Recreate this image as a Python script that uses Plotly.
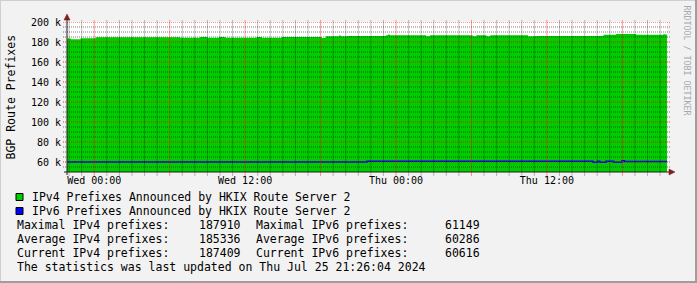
import plotly.graph_objects as go
import pandas as pd

# ---------------- data ----------------
ipv4_times = [
    "2024-07-23 21:50", "2024-07-23 22:10", "2024-07-23 22:55", "2024-07-24 00:08",
    "2024-07-24 06:50", "2024-07-24 08:25", "2024-07-24 09:00", "2024-07-24 09:55",
    "2024-07-24 10:25", "2024-07-24 12:55", "2024-07-24 13:20", "2024-07-24 14:55",
    "2024-07-24 18:05", "2024-07-24 18:25", "2024-07-24 19:30", "2024-07-24 19:36",
    "2024-07-24 20:06", "2024-07-24 23:12", "2024-07-24 23:22", "2024-07-24 23:30",
    "2024-07-25 02:24", "2024-07-25 02:42", "2024-07-25 06:06", "2024-07-25 06:24",
    "2024-07-25 07:12", "2024-07-25 07:30", "2024-07-25 10:30", "2024-07-25 11:03",
    "2024-07-25 16:30", "2024-07-25 17:30", "2024-07-25 19:06", "2024-07-25 21:15",
    "2024-07-25 21:25", "2024-07-25 21:33",
]
ipv4_values = [
    183600, 182700, 183700, 184700,
    184300, 185100, 184300, 185100,
    184300, 185000, 184300, 185000,
    183900, 185700, 186800, 185700,
    186000, 186700, 187400, 186700,
    185800, 186700, 185800, 186700,
    185800, 186700, 185800, 186100,
    187300, 187910, 187300, 187800,
    187409, 187409,
]

ipv6_times = [
    "2024-07-23 21:50", "2024-07-24 21:42", "2024-07-25 15:40", "2024-07-25 16:02",
    "2024-07-25 16:12", "2024-07-25 16:42", "2024-07-25 17:18", "2024-07-25 17:58",
    "2024-07-25 18:10", "2024-07-25 21:33",
]
ipv6_values = [
    59900, 60650, 59700, 60800,
    59700, 60650, 59700, 61149,
    60616, 60616,
]

y_tick_vals = [60000, 80000, 100000, 120000, 140000, 160000, 180000, 200000]
y_tick_text = ["60 k", "80 k", "100 k", "120 k", "140 k", "160 k", "180 k", "200 k"]
x_tick_vals = ["2024-07-24 00:00", "2024-07-24 12:00", "2024-07-25 00:00", "2024-07-25 12:00"]
x_tick_text = ["Wed 00:00", "Wed 12:00", "Thu 00:00", "Thu 12:00"]

stats_rows = [
    ("Maximal IPv4 prefixes:", "187910", "Maximal IPv6 prefixes:", "61149"),
    ("Average IPv4 prefixes:", "185336", "Average IPv6 prefixes:", "60286"),
    ("Current IPv4 prefixes:", "187409", "Current IPv6 prefixes:", "60616"),
]
legend_labels = ["IPv4 Prefixes Announced by HKIX Route Server 2",
                 "IPv6 Prefixes Announced by HKIX Route Server 2"]
legend_colors = ["#00CC00", "#0000FF"]
footer = "The statistics was last updated on Thu Jul 25 21:26:04 2024"

X_START, X_END = "2024-07-23 21:50", "2024-07-25 21:33"
Y_MIN, Y_MAX = 50000, 200000

# ---------------- layout helpers ----------------
W, H = 697, 283
L, R, T, B = 67, 30, 22, 111
PW, PH = W - L - R, H - T - B


def px(x):
    return (x - L) / PW


def py(y):
    return (T + PH - y) / PH


MONO = "DejaVu Sans Mono"

fig = go.Figure()
fig.add_trace(go.Scatter(
    x=ipv4_times, y=ipv4_values, mode="lines", line=dict(width=0, shape="hv"),
    fill="tozeroy", fillcolor="#00CC00", hoverinfo="skip"))
fig.add_trace(go.Scatter(
    x=ipv6_times, y=ipv6_values, mode="lines",
    line=dict(width=1.5, color="#0000FF", shape="hv"), hoverinfo="skip"))

shapes = []
minor_col = "rgba(0,0,0,0.5)"
major_col = "rgba(255,0,0,0.8)"
# horizontal grid (extends past the axis as tick marks)
for v in range(55000, Y_MAX + 1, 5000):
    major = v in y_tick_vals
    shapes.append(dict(type="line", xref="paper", yref="y", x0=px(63), x1=px(670),
                       y0=v, y1=v, layer="above",
                       line=dict(color=major_col if major else minor_col, width=1, dash="1px,1px")))
# vertical grid
for t in pd.date_range("2024-07-23 22:00", "2024-07-25 21:00", freq="1h"):
    major = t.hour % 6 == 0
    shapes.append(dict(type="line", xref="x", yref="paper", x0=t, x1=t,
                       y0=py(175.5), y1=py(20), layer="above",
                       line=dict(color=major_col if major else minor_col, width=1, dash="1px,1px")))
# axes
axis_col = "#1F1F1F"
shapes.append(dict(type="line", xref="paper", yref="paper", x0=px(67), x1=px(67),
                   y0=py(175), y1=py(18), line=dict(color=axis_col, width=1), layer="above"))
shapes.append(dict(type="line", xref="paper", yref="paper", x0=px(64), x1=px(671),
                   y0=py(172), y1=py(172), line=dict(color=axis_col, width=1), layer="above"))
arrow_col = "#801F1F"
shapes.append(dict(type="path", xref="paper", yref="paper", layer="above",
                   path=f"M {px(64)},{py(20)} L {px(70)},{py(20)} L {px(67)},{py(14)} Z",
                   fillcolor=arrow_col, line=dict(color=arrow_col, width=0.5)))
shapes.append(dict(type="path", xref="paper", yref="paper", layer="above",
                   path=f"M {px(669)},{py(169)} L {px(669)},{py(175)} L {px(675)},{py(172)} Z",
                   fillcolor=arrow_col, line=dict(color=arrow_col, width=0.5)))
# legend boxes
for i, c in enumerate(legend_colors):
    yc = 197 + i * 14
    shapes.append(dict(type="rect", xref="paper", yref="paper",
                       x0=px(16), x1=px(23), y0=py(yc - 3.5), y1=py(yc + 3.5),
                       fillcolor=c, line=dict(color="#000000", width=1)))
# image border (3D shade)
shapes.append(dict(type="line", xref="paper", yref="paper", x0=px(0.5), x1=px(0.5),
                   y0=py(0), y1=py(283), line=dict(color="#CFCFCF", width=1)))
shapes.append(dict(type="line", xref="paper", yref="paper", x0=px(0), x1=px(697),
                   y0=py(0.5), y1=py(0.5), line=dict(color="#CFCFCF", width=1)))
shapes.append(dict(type="line", xref="paper", yref="paper", x0=px(696), x1=px(696),
                   y0=py(0), y1=py(283), line=dict(color="#9E9E9E", width=2)))
shapes.append(dict(type="line", xref="paper", yref="paper", x0=px(0), x1=px(697),
                   y0=py(282), y1=py(282), line=dict(color="#9E9E9E", width=2)))

ann = []
FS = 11.5


def text(x, y, s, size=FS, color="#000000", angle=0, xanchor="left"):
    ann.append(dict(xref="paper", yref="paper", x=px(x), y=py(y), text=s, showarrow=False,
                    xanchor=xanchor, yanchor="middle", textangle=angle,
                    font=dict(family=MONO, size=size, color=color)))


for i, lab in enumerate(legend_labels):
    text(30, 197 + i * 14, lab)
for i, row in enumerate(stats_rows):
    y = 224.8 + i * 13.9
    text(14.5, y, row[0])
    text(196.5, y, row[1])
    text(254, y, row[2])
    text(443, y, row[3])
text(14.5, 266.5, footer)
text(10.5, 97, "BGP Route Prefixes", angle=-90, xanchor="center")
text(686.5, 60, "RRDTOOL / TOBI OETIKER", size=8.3, color="#A8A8A8", angle=90, xanchor="center")

fig.update_layout(
    width=W, height=H, autosize=False,
    margin=dict(l=L, r=R, t=T, b=B, pad=0),
    paper_bgcolor="#F2F2F2", plot_bgcolor="#FFFFFF",
    showlegend=False, shapes=shapes, annotations=ann,
    xaxis=dict(type="date", range=[X_START, X_END], showgrid=False, zeroline=False,
               tickvals=x_tick_vals, ticktext=x_tick_text, ticks="", ticklabelstandoff=1,
               tickfont=dict(family=MONO, size=10, color="#000000"),
               showline=False, fixedrange=True),
    yaxis=dict(range=[Y_MIN, Y_MAX], showgrid=False, zeroline=False,
               tickvals=y_tick_vals, ticktext=y_tick_text, ticks="", ticklabelstandoff=5,
               tickfont=dict(family=MONO, size=10, color="#000000"),
               showline=False, fixedrange=True),
)

fig.write_html("out.html", config={"displayModeBar": False})
